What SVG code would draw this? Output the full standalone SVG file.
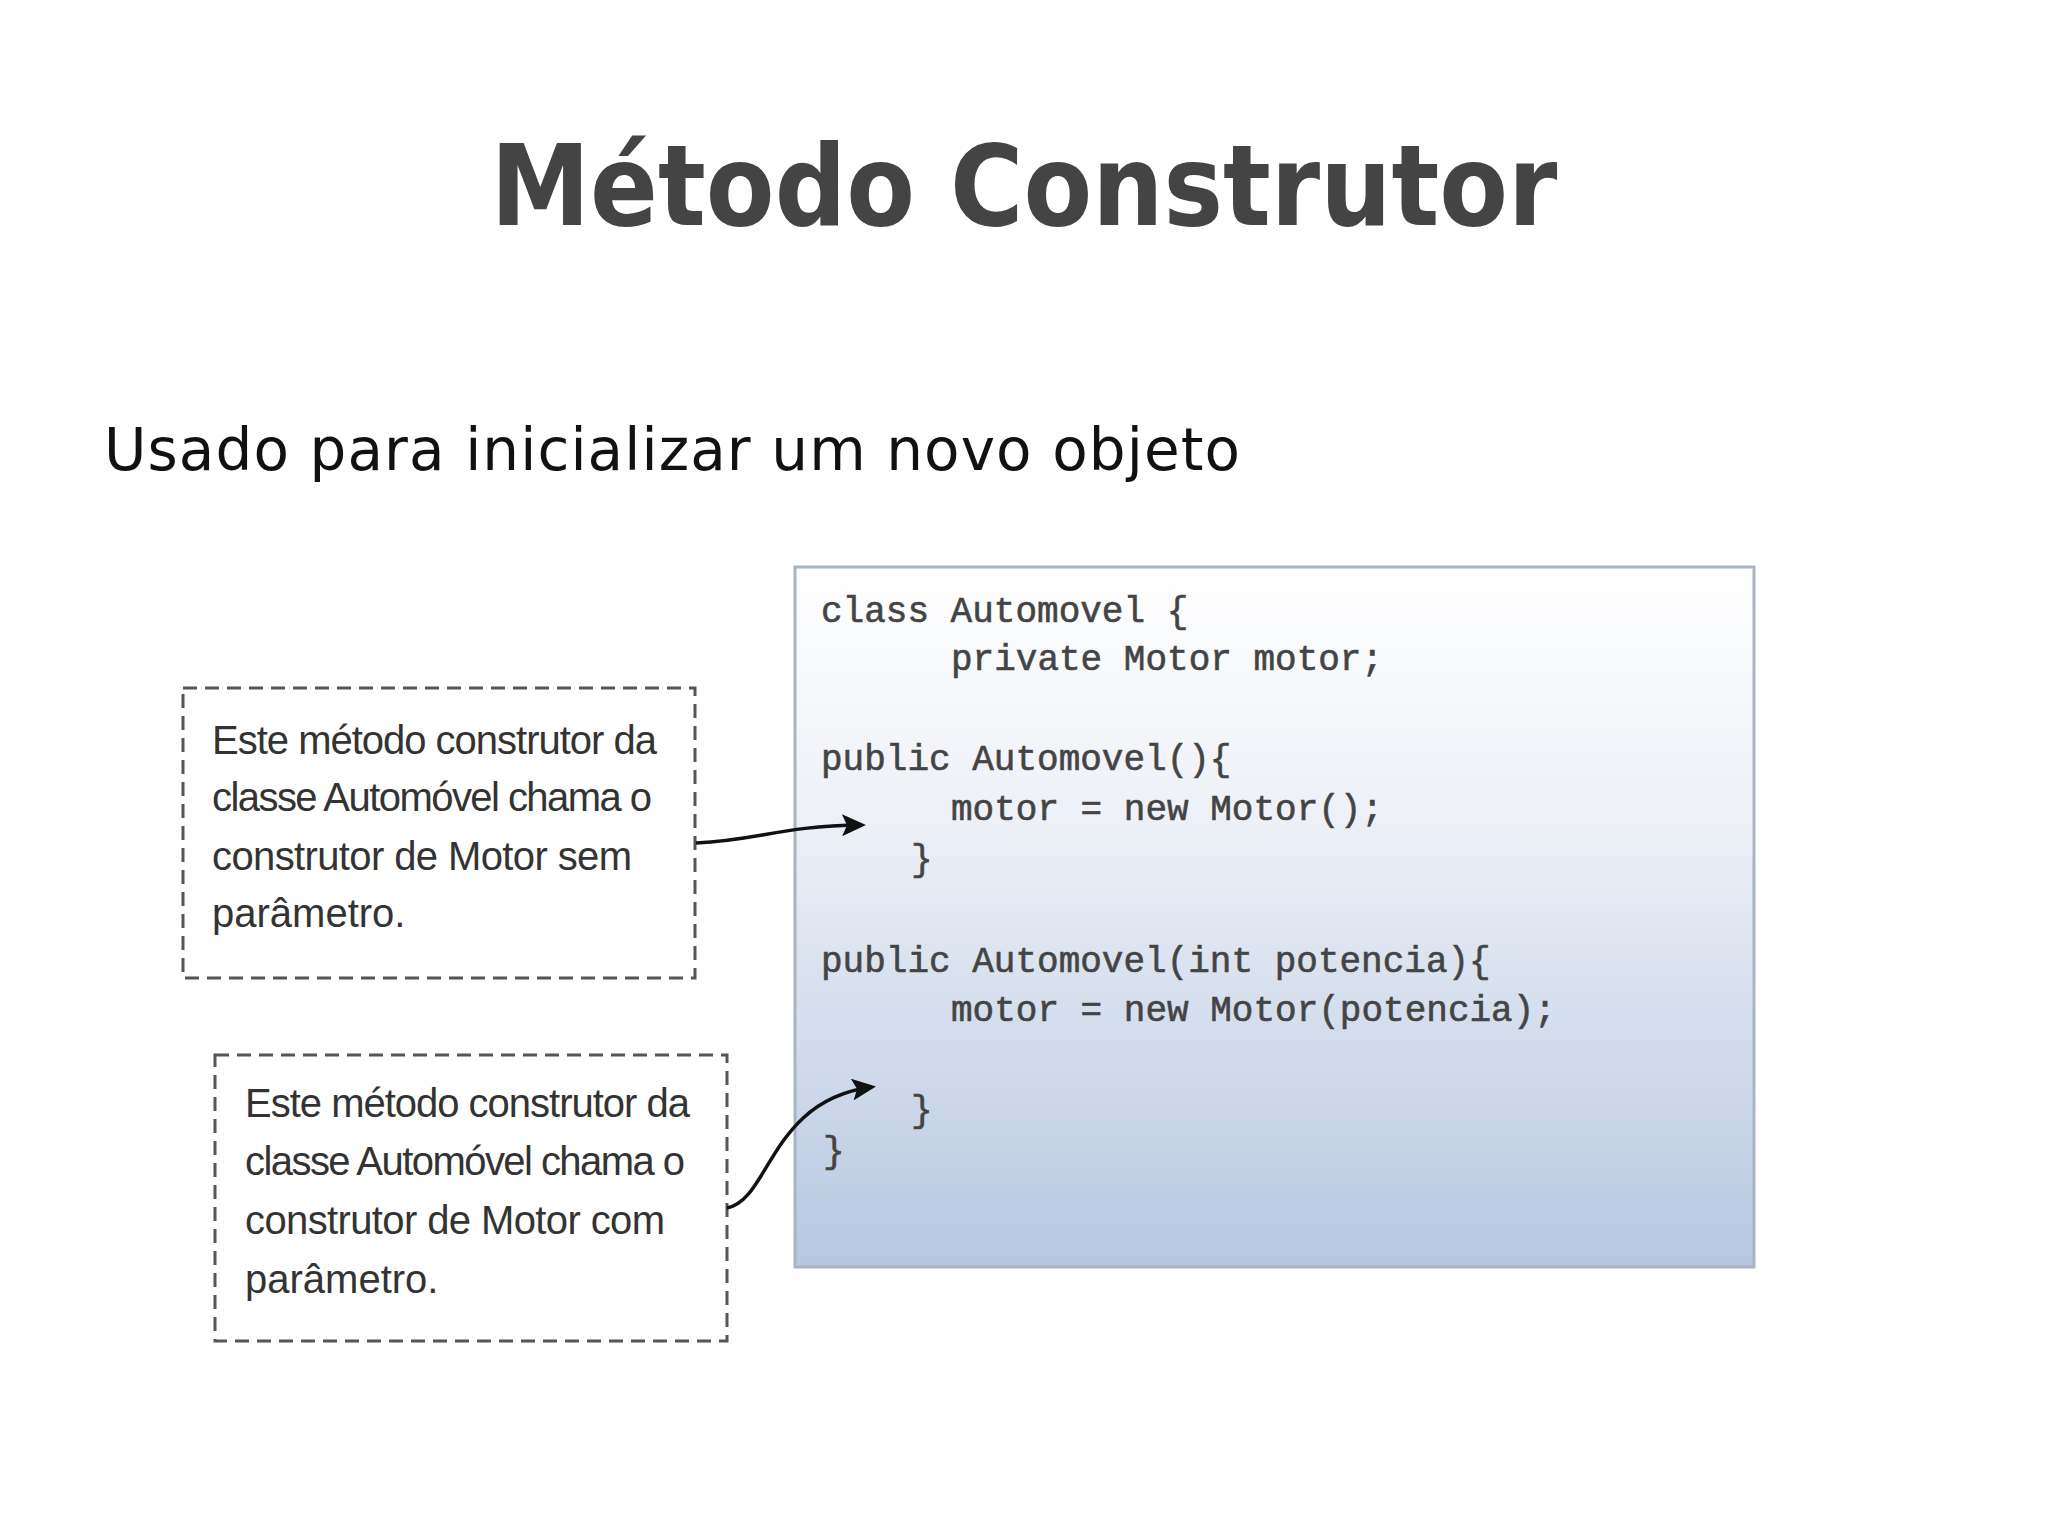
<svg xmlns="http://www.w3.org/2000/svg" width="2048" height="1536" viewBox="0 0 2048 1536">
<defs>
<linearGradient id="g" x1="0" y1="0" x2="0" y2="1"><stop offset="0" stop-color="#ffffff"/><stop offset="0.35" stop-color="#eef1f7"/><stop offset="1" stop-color="#b7c7e0"/></linearGradient>
<marker id="ah" markerWidth="24" markerHeight="22" refX="20" refY="11" orient="auto" markerUnits="userSpaceOnUse"><path d="M0,0 L24,11 L0,22 L5,11 z" fill="#111"/></marker>
<style>
.note{font-family:"Liberation Sans Narrow","Liberation Sans",sans-serif;font-size:40px;fill:#333}
.code{font-family:"Liberation Mono",monospace;font-size:36px;fill:#444;stroke:#444;stroke-width:0.6}
.dash{fill:none;stroke:#555;stroke-width:3;stroke-dasharray:14,8}
.conn{fill:none;stroke:#111;stroke-width:3.5}
</style>
</defs>
<rect width="2048" height="1536" fill="#fff"/>
<text x="1024" y="225" text-anchor="middle" font-family="DejaVu Sans, sans-serif" font-weight="bold" font-size="112" fill="#444" textLength="1067" lengthAdjust="spacingAndGlyphs">Método Construtor</text>
<text x="104" y="470" font-family="DejaVu Sans, sans-serif" font-size="58" fill="#111" textLength="1136">Usado para inicializar um novo objeto</text>
<g id="code">
<rect x="795" y="567" width="959" height="700" fill="url(#g)" stroke="#a9b3c2" stroke-width="3"/>
<text class="code" x="821" y="622">class Automovel {</text>
<text class="code" x="951" y="670">private Motor motor;</text>
<text class="code" x="821" y="770">public Automovel(){</text>
<text class="code" x="951" y="820">motor = new Motor();</text>
<text class="code" x="911" y="870">}</text>
<text class="code" x="821" y="972">public Automovel(int potencia){</text>
<text class="code" x="951" y="1021">motor = new Motor(potencia);</text>
<text class="code" x="911" y="1121">}</text>
<text class="code" x="823" y="1162">}</text>
</g>
<g id="note1">
<rect class="dash" x="183" y="688" width="512" height="290"/>
<text class="note" x="212" y="754" textLength="445">Este método construtor da</text>
<text class="note" x="212" y="811" textLength="440">classe Automóvel chama o</text>
<text class="note" x="212" y="870" textLength="420">construtor de Motor sem</text>
<text class="note" x="212" y="927">parâmetro.</text>
</g>
<g id="note2">
<rect class="dash" x="215" y="1055" width="512" height="286"/>
<text class="note" x="245" y="1117" textLength="445">Este método construtor da</text>
<text class="note" x="245" y="1175" textLength="440">classe Automóvel chama o</text>
<text class="note" x="245" y="1234" textLength="420">construtor de Motor com</text>
<text class="note" x="245" y="1293">parâmetro.</text>
</g>
<g id="connectors">
<path class="conn" d="M696,843 C760,840 780,826 862,825" marker-end="url(#ah)"/>
<path class="conn" d="M727,1208 C770,1200 770,1100 872,1087" marker-end="url(#ah)"/>
</g>
</svg>
